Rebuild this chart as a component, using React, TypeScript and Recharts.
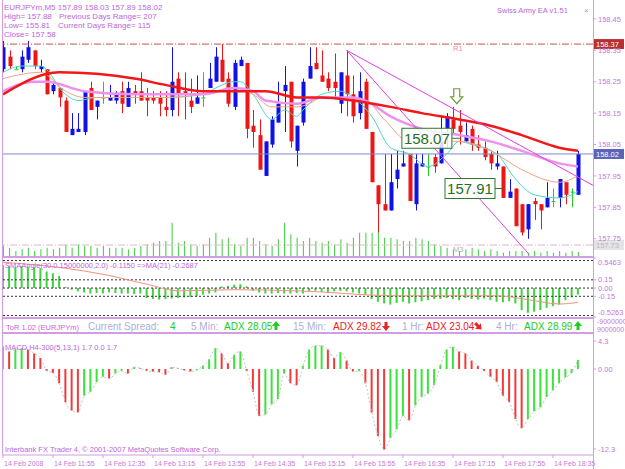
import { Bar, Cell, ComposedChart, Line, ReferenceDot, ReferenceLine, XAxis, YAxis } from "recharts";

// EURJPYm M5, 14 Feb 2008 11:15 .. 18:55 (one entry per bar)
const open = [158.29,158.33,158.29,158.29,158.32,158.35,158.29,158.29,158.22,158.23,
  158.19,158.08,158.09,158.09,158.23,158.17,158.20,158.19,158.19,158.22,
  158.17,158.22,158.22,158.20,158.20,158.20,158.17,158.16,158.26,158.22,
  158.19,158.18,158.20,158.23,158.25,158.32,158.26,158.17,158.30,158.31,
  158.11,158.08,157.95,158.05,158.12,158.22,158.25,158.03,158.12,158.26,
  158.31,158.27,158.26,158.25,158.18,158.27,158.21,158.15,158.25,158.09,
  157.92,157.86,157.84,157.94,157.98,158.02,157.86,157.98,157.98,158.01,
  157.99,158.10,158.13,158.11,158.06,158.10,158.05,158.04,158.02,157.98,
  157.98,157.88,157.91,157.86,157.78,157.87,157.86,157.85,157.87,157.88,
  157.93,157.90,157.89]
const high = [158.38,158.35,158.30,158.35,158.38,158.35,158.32,158.29,158.25,158.23,
  158.20,158.15,158.15,158.22,158.25,158.19,158.25,158.24,158.22,158.25,
  158.25,158.24,158.28,158.23,158.22,158.22,158.22,158.36,158.28,158.28,
  158.26,158.27,158.28,158.31,158.36,158.37,158.28,158.32,158.33,158.31,
  158.16,158.13,158.06,158.14,158.25,158.30,158.25,158.11,158.26,158.36,
  158.36,158.35,158.28,158.34,158.28,158.35,158.27,158.28,158.26,158.09,
  157.92,158.02,158.02,158.03,158.03,158.02,158.02,158.02,158.02,158.02,
  158.14,158.15,158.17,158.16,158.12,158.11,158.08,158.06,158.03,158.03,
  157.98,157.94,157.91,157.86,157.86,157.88,157.86,157.93,157.91,157.94,
  157.93,157.91,158.03]
const low = [158.28,158.29,158.29,158.28,158.31,158.29,158.28,158.21,158.21,158.17,
  158.09,158.08,158.09,158.08,158.16,158.13,158.18,158.19,158.18,158.15,
  158.17,158.18,158.19,158.14,158.18,158.14,158.14,158.14,158.14,158.13,
  158.15,158.18,158.17,158.23,158.25,158.25,158.17,158.16,158.30,158.07,
  158.04,157.97,157.95,158.04,158.12,158.09,158.04,157.98,158.11,158.26,
  158.29,158.25,158.22,158.20,158.15,158.14,158.12,158.13,158.10,157.93,
  157.77,157.84,157.84,157.91,157.98,157.87,157.84,157.98,157.95,157.96,
  157.99,158.04,158.08,158.05,158.06,158.03,158.03,158.00,157.97,157.97,
  157.88,157.88,157.79,157.76,157.75,157.81,157.78,157.85,157.85,157.85,
  157.86,157.85,157.89]
const close = [158.36,158.30,158.29,158.33,158.36,158.30,158.30,158.21,158.24,158.20,
  158.09,158.10,158.10,158.22,158.16,158.19,158.20,158.20,158.21,158.18,
  158.23,158.21,158.19,158.19,158.19,158.18,158.16,158.25,158.21,158.21,
  158.17,158.20,158.20,158.26,158.33,158.25,158.18,158.31,158.32,158.10,
  158.09,157.97,158.06,158.13,158.18,158.24,158.06,158.11,158.25,158.30,
  158.29,158.25,158.23,158.23,158.28,158.21,158.14,158.22,158.10,157.93,
  157.86,157.84,157.93,157.97,157.99,157.87,157.99,157.99,157.98,157.98,
  158.06,158.14,158.10,158.09,158.08,158.05,158.04,158.01,157.99,157.99,
  157.88,157.90,157.79,157.77,157.86,157.86,157.84,157.88,157.87,157.94,
  157.89,157.90,158.02]
const volume = [30,25,15,20,25,15,20,25,20,25,
  35,25,35,30,30,25,30,25,25,25,
  20,25,30,35,40,45,45,100,40,45,
  35,30,35,55,70,50,55,35,30,55,
  55,45,35,30,50,100,65,55,45,55,
  45,40,45,35,50,40,55,70,70,70,
  75,55,55,50,45,45,55,50,45,35,
  30,25,20,15,20,25,20,15,20,15,
  10,15,15,15,10,15,10,15,10,15,
  10,15,12]

// moving averages, read at a few bars
const maRedAt = [0, 9, 21, 26, 32, 37, 42, 47, 51, 56, 62, 67, 73, 78, 83, 89, 92]
const maRed = [158.21, 158.28, 158.26, 158.24, 158.22, 158.22, 158.22, 158.20, 158.20, 158.19, 158.17, 158.15, 158.13, 158.11, 158.08, 158.04, 158.03]
const maPinkAt = [0, 5, 7, 13, 21, 26, 32, 37, 40, 42, 47, 51, 56, 58, 62, 67, 73, 78, 83, 89, 92]
const maPink = [158.22, 158.25, 158.25, 158.22, 158.21, 158.21, 158.21, 158.23, 158.22, 158.19, 158.18, 158.20, 158.20, 158.19, 158.14, 158.10, 158.08, 158.06, 158.03, 157.99, 157.98]
const maSalmonAt = [0, 6, 10, 13, 21, 26, 32, 37, 40, 43, 47, 49, 51, 58, 61, 65, 70, 73, 78, 83, 89, 92]
const maSalmon = [158.26, 158.28, 158.22, 158.20, 158.20, 158.20, 158.21, 158.23, 158.21, 158.17, 158.17, 158.18, 158.20, 158.19, 158.13, 158.06, 158.06, 158.06, 158.03, 157.97, 157.93, 157.95]
const maCyanAt = [0, 3, 6, 10, 12, 15, 21, 26, 32, 34, 37, 38, 40, 43, 45, 47, 48, 51, 54, 56, 59, 62, 65, 68, 71, 73, 75, 79, 82, 85, 89, 92]
const maCyan = [158.28, 158.30, 158.30, 158.21, 158.19, 158.20, 158.20, 158.20, 158.21, 158.23, 158.25, 158.25, 158.21, 158.13, 158.16, 158.14, 158.16, 158.21, 158.22, 158.20, 158.14, 158.04, 158.02, 157.98, 158.02, 158.06, 158.05, 158.02, 157.94, 157.89, 157.88, 157.90]

const smaAngle = [0.42,0.40,0.38,0.40,0.39,0.38,0.36,0.30,0.27,0.22,
  0.02,-0.03,-0.06,-0.08,-0.10,-0.09,-0.10,-0.08,-0.09,-0.10,
  -0.10,-0.11,-0.10,-0.18,-0.20,-0.21,-0.20,-0.19,-0.18,-0.17,
  -0.16,-0.15,-0.12,-0.10,-0.08,0.03,0.04,0.06,0.07,0.03,
  -0.05,-0.08,-0.10,-0.10,-0.09,-0.10,-0.10,-0.09,-0.10,-0.06,
  -0.05,-0.07,-0.08,-0.06,-0.05,-0.06,-0.08,-0.10,-0.12,-0.20,
  -0.25,-0.28,-0.30,-0.27,-0.25,-0.28,-0.26,-0.24,-0.22,-0.20,
  -0.20,-0.18,-0.20,-0.22,-0.18,-0.20,-0.21,-0.19,-0.22,-0.25,
  -0.26,-0.24,-0.28,-0.40,-0.45,-0.43,-0.40,-0.36,-0.33,-0.30,
  -0.22,-0.17,-0.12]
const smaMaAt = [0, 10, 16, 23, 28, 37, 47, 63, 71, 79, 85, 89, 92]
const smaMa = [0.47, 0.36, 0.25, 0.07, -0.05, -0.03, -0.05, -0.14, -0.14, -0.14, -0.23, -0.29, -0.26]

const macdHist = [3.5,2.7,3.0,3.2,3.0,2.4,1.7,-0.3,-0.6,-2.2,
  -5.1,-6.4,-6.7,-4.1,-3.5,-2.0,-1.2,-1.5,-0.7,-0.3,
  -0.7,0.3,0.1,-0.3,-0.4,-0.5,-0.9,0.3,0.1,-0.2,
  -0.4,-0.2,0.5,1.5,3.2,2.4,0.9,2.2,2.7,-0.3,
  -3.5,-7.2,-7.0,-5.4,-4.6,-0.7,-2.2,-2.5,0.5,3.0,
  3.6,3.6,3.0,1.7,2.6,1.3,-0.4,-0.3,-2.2,-6.7,
  -10.3,-12.4,-10.6,-9.3,-7.2,-7.9,-5.6,-4.3,-3.8,-2.5,
  0.6,3.0,3.4,2.7,2.4,1.3,0.5,-0.3,-1.2,-2.0,
  -4.1,-5.1,-7.7,-9.1,-7.7,-6.5,-5.9,-4.3,-3.3,-2.2,
  -1.3,-0.6,1.4]

const priceTicks = [157.75, 157.85, 157.95, 158.05, 158.15, 158.25, 158.35, 158.45]
const smaTicks = [0.5463, 0.15, 0, -0.15, -0.5263]
const smaLevels = [0.5, 0.15, 0, -0.15, -0.5]
const macdTicks = [4.3, 0, -12.3]
const timeTicks = [0, 8, 16, 24, 32, 40, 48, 56, 64, 72, 80, 88]
const timeLabels = ["14 Feb 2008", "14 Feb 11:55", "14 Feb 12:35", "14 Feb 13:15", "14 Feb 13:55", "14 Feb 14:35",
  "14 Feb 15:15", "14 Feb 15:55", "14 Feb 16:35", "14 Feb 17:15", "14 Feb 17:55", "14 Feb 18:35"]

const r1Level = 158.37
const bidLevel = 158.02
const m3Level = 157.73
const trendLines = [
  [{ x: 55, y: 158.35 }, { x: 94.4, y: 157.92 }],
  [{ x: 55, y: 158.35 }, { x: 84.2, y: 157.70 }],
]
const priceBoxes = [{ i: 73.1, price: 158.07 }, { i: 80, price: 157.91 }]
const signalArrow = { i: 72.6, price: 158.18 }

const FONT = '"Liberation Sans", Arial, sans-serif'
const VIOLET = "#d49ce4"
const AXIS_TXT = "#c47ad8"
const BLUE = "#1010e8"
const RED = "#ee1515"
const GREEN = "#22cc22"
const ADX_RED = "#ee2020"
const GREY_TXT = "#aab0d6"
const X_DOMAIN = [-0.16, 94.4]

const rows: any[] = open.map((o, i) => ({
  i, open: o, high: high[i], low: low[i], close: close[i], vol: volume[i],
  sma: smaAngle[i], macd: macdHist[i],
  maRed: null, maPink: null, maSalmon: null, maCyan: null, smaMa: null,
}))
const place = (key: string, at: number[], vals: number[]) => at.forEach((idx, j) => { rows[idx][key] = vals[j] })
place("maRed", maRedAt, maRed)
place("maPink", maPinkAt, maPink)
place("maSalmon", maSalmonAt, maSalmon)
place("maCyan", maCyanAt, maCyan)
place("smaMa", smaMaAt, smaMa)

function Candle(props: any) {
  const { x, y, width, height, payload } = props
  if (!payload) return null
  const { open: o, close: c, high: h, low: l } = payload
  const cx = Math.round(x + width / 2)
  const k = height / (h - l)
  const yo = y + (h - o) * k
  const yc = y + (h - c) * k
  const col = c > o ? BLUE : c < o ? RED : GREEN
  const top = Math.min(yo, yc)
  const bh = Math.max(1, Math.abs(yc - yo))
  return (
    <g>
      <line x1={cx + 0.5} x2={cx + 0.5} y1={y} y2={y + height} stroke={col} />
      <rect x={cx - 1.5} y={top} width={4} height={bh} fill={col} />
    </g>
  )
}

// level line label: optional text on the line + price tag on the axis
const levelLabel = (name: string, nameColor: string, tag: string, bg: string, fg: string) => (p: any) => {
  const vb = p.viewBox
  return (
    <g fontFamily={FONT}>
      {name && <text x={vb.x + 451} y={vb.y + 7} fontSize={7.5} fill={nameColor}>{name}</text>}
      <rect x={vb.x + vb.width + 1} y={vb.y - 5} width={30} height={10} fill={bg} />
      <text x={vb.x + vb.width + 3} y={vb.y + 3} fontSize={7.5} fill={fg}>{tag}</text>
    </g>
  )
}

function PriceBox(props: any) {
  const { cx, cy, value } = props
  return (
    <g>
      <line x1={cx - 8} x2={cx} y1={cy} y2={cy} stroke="#2a7a2a" />
      <rect x={cx - 58} y={cy - 10} width={50} height={20} fill="#ffffff" fillOpacity={0.85} stroke="#2a7a2a" />
      <text x={cx - 33} y={cy + 5.5} fontSize={15} fontFamily={FONT} fill="#1f6f1f" textAnchor="middle">{value}</text>
    </g>
  )
}

function DownArrow(props: any) {
  const { cx, cy } = props
  const d = `M${cx},${cy} L${cx - 6},${cy - 7} L${cx - 3},${cy - 7} L${cx - 3},${cy - 15} L${cx + 3},${cy - 15} L${cx + 3},${cy - 7} L${cx + 6},${cy - 7} Z`
  return <path d={d} fill="#ffffff" stroke="#6f9a3a" strokeWidth={1.2} />
}

function TimeTick(props: any) {
  const { x, y, payload } = props
  return (
    <text x={x + 1} y={y + 6} fontSize={7} fontFamily={FONT} fill={AXIS_TXT} textAnchor="start">
      {timeLabels[timeTicks.indexOf(payload.value)]}
    </text>
  )
}

// right-axis tick text; the extreme labels are pulled inside the window
const axisTick = (fmt: (v: number) => string, top?: number, bottom?: number) => (p: any) => {
  const v = p.payload.value
  const shift = v === top ? 4 : v === bottom ? -5 : 0
  return (
    <text x={p.x} y={p.y + shift} dy="0.355em" fontSize={7.5} fontFamily={FONT} fill={AXIS_TXT} textAnchor="start">
      {fmt(v)}
    </text>
  )
}
const fmtZero = (v: number) => (v === 0 ? "0.00" : String(v))

// block arrows of the ToR line (up, down, down-right)
function BlockArrow({ x, y, dir, color }: { x: number; y: number; dir: "up" | "down" | "dr"; color: string }) {
  const up = "M0,-5 L4,0 L1.5,0 L1.5,4 L-1.5,4 L-1.5,0 L-4,0 Z"
  const rot = dir === "up" ? 0 : dir === "down" ? 180 : 135
  return <path d={up} transform={`translate(${x},${y}) rotate(${rot})`} fill={color} />
}

export default function App() {
  return (
    <div style={{ position: "fixed", left: 0, top: 0, width: 625, height: 469, background: "#fff", overflow: "hidden", fontFamily: FONT }}>
      {/* main price window */}
      <div style={{ position: "absolute", left: 0, top: 0 }}>
        <ComposedChart width={625} height={257} data={rows} margin={{ top: 2, right: 0, bottom: 1, left: 2 }}>
          <XAxis dataKey="i" type="number" domain={X_DOMAIN} allowDataOverflow hide />
          <XAxis xAxisId="v" dataKey="i" type="number" domain={X_DOMAIN} allowDataOverflow hide />
          <YAxis orientation="right" width={32} domain={[157.695, 158.504]} allowDataOverflow ticks={priceTicks}
            tick={axisTick((v) => v.toFixed(2))} tickSize={3} tickMargin={2}
            axisLine={false} tickLine={{ stroke: VIOLET }} interval={0} />
          <YAxis yAxisId="vol" domain={[0, 762]} allowDataOverflow hide />
          <Bar xAxisId="v" yAxisId="vol" dataKey="vol" fill="#3ccc3c" barSize={1} isAnimationActive={false} />
          <ReferenceLine y={r1Level} stroke="#c85050" strokeDasharray="7 2 1 2"
            label={levelLabel("R1", "#e89090", "158.37", "#b83030", "#ffffff")} />
          <ReferenceLine y={m3Level} stroke="#e8b4cc" strokeDasharray="7 2 1 2"
            label={levelLabel("M3", "#b0b0b0", "157.73", "#e4e4e4", "#b8b8c8")} />
          <ReferenceLine y={bidLevel} stroke="#7c88c8"
            label={levelLabel("", "", "158.02", "#5a64b8", "#ffffff")} />
          <Bar dataKey={(d: any) => [d.low, d.high]} barSize={5} shape={(p: any) => <Candle {...p} />} isAnimationActive={false} />
          <Line dataKey="maCyan" type="monotone" stroke="#50d4c8" strokeWidth={1} dot={false} connectNulls isAnimationActive={false} />
          <Line dataKey="maSalmon" type="monotone" stroke="#f4a283" strokeWidth={1} dot={false} connectNulls isAnimationActive={false} />
          <Line dataKey="maPink" type="monotone" stroke="#ee90ee" strokeWidth={2.5} dot={false} connectNulls isAnimationActive={false} />
          <Line dataKey="maRed" type="monotone" stroke="#f01818" strokeWidth={2.5} dot={false} connectNulls isAnimationActive={false} />
          {trendLines.map((seg, k) => (
            <ReferenceLine key={k} segment={seg} stroke="#e040e0" strokeWidth={1} ifOverflow="visible" />
          ))}
          {priceBoxes.map((b, k) => (
            <ReferenceDot key={k} x={b.i} y={b.price} shape={(p: any) => <PriceBox {...p} value={b.price.toFixed(2)} />} />
          ))}
          <ReferenceDot x={signalArrow.i} y={signalArrow.price} shape={(p: any) => <DownArrow {...p} />} />
        </ComposedChart>
      </div>

      {/* SMAAngle window */}
      <div style={{ position: "absolute", left: 0, top: 257 }}>
        <ComposedChart width={625} height={61} data={rows} margin={{ top: 1, right: 0, bottom: 1, left: 2 }}>
          <XAxis dataKey="i" type="number" domain={X_DOMAIN} allowDataOverflow hide />
          <YAxis orientation="right" width={32} domain={[-0.5263, 0.5463]} allowDataOverflow ticks={smaTicks}
            tick={axisTick(fmtZero, 0.5463, -0.5263)} tickSize={3} tickMargin={2}
            axisLine={false} tickLine={{ stroke: VIOLET }} interval={0} />
          {smaLevels.map((lv) => (
            <ReferenceLine key={lv} y={lv} stroke="#333" strokeDasharray="2 2" />
          ))}
          <Bar dataKey="sma" fill="#3ed23e" barSize={2} isAnimationActive={false} />
          <Line dataKey="smaMa" type="monotone" stroke="#f4907c" strokeWidth={1} dot={false} connectNulls isAnimationActive={false} />
        </ComposedChart>
      </div>

      {/* MACD window with time axis */}
      <div style={{ position: "absolute", left: 0, top: 333 }}>
        <ComposedChart width={625} height={136} data={rows} margin={{ top: 2, right: 0, bottom: 0, left: 2 }}>
          <XAxis dataKey="i" type="number" domain={X_DOMAIN} allowDataOverflow ticks={timeTicks} interval={0}
            tick={(p: any) => <TimeTick {...p} />} tickSize={3} height={14}
            axisLine={{ stroke: VIOLET }} tickLine={{ stroke: VIOLET }} />
          <YAxis orientation="right" width={32} domain={[-13.23, 5.23]} allowDataOverflow ticks={macdTicks}
            tick={axisTick(fmtZero)} tickSize={3} tickMargin={2}
            axisLine={false} tickLine={{ stroke: VIOLET }} interval={0} />
          <Bar dataKey="macd" barSize={2} isAnimationActive={false}>
            {rows.map((d, k) => (
              <Cell key={k} fill={k === 0 || d.macd >= rows[k - 1].macd ? "#3ae43a" : "#f03a3a"} />
            ))}
          </Bar>
          <Line dataKey="macd" type="monotone" stroke="#c4c4c4" strokeDasharray="2 2" strokeWidth={1} dot={false} isAnimationActive={false} />
        </ComposedChart>
      </div>

      {/* frame and window texts */}
      <svg width={625} height={469} style={{ position: "absolute", left: 0, top: 0, pointerEvents: "none" }} fontFamily={FONT}>
        <line x1={2.5} x2={2.5} y1={0} y2={455} stroke={VIOLET} />
        <line x1={593.5} x2={593.5} y1={0} y2={469} stroke={VIOLET} />
        <rect x={2} y={256} width={592} height={2} fill={VIOLET} />
        <rect x={2} y={317} width={592} height={2} fill={VIOLET} />
        <rect x={2} y={332} width={592} height={2} fill={VIOLET} />

        <g fontSize={8} fill="#bb66dd">
          <text x={4} y={10}>EURJPYm,M5  157.89 158.03 157.89 158.02</text>
          <text x={4} y={19}>High= 157.88</text>
          <text x={59} y={19}>Previous Days Range= 207</text>
          <text x={4} y={28}>Low= 155.81</text>
          <text x={58} y={28}>Current Days Range= 115</text>
          <text x={4} y={37}>Close= 157.58</text>
          <text x={497} y={13} fontSize={7.5}>Swiss Army EA v1.51</text>
          <text x={584} y={13} fill="#e070c0">×</text>
          <text x={5} y={268} fontSize={7.5}>SMAAngle(30,0.15000000,2.0) -0.1150  =&gt;MA(21) -0.2687</text>
          <text x={5} y={350} fontSize={7.5}>MACD H4-300(5,13,1) 1.7 0.0 1.7</text>
          <text x={5} y={452} fontSize={7.5}>Interbank FX Trader 4, © 2001-2007 MetaQuotes Software Corp.</text>
        </g>

        <g fontSize={10}>
          <text x={6} y={330} fontSize={7.5} fill="#cc66cc">ToR 1.02 (EURJPYm)</text>
          <text x={88} y={330} fill={GREY_TXT}>Current Spread:</text>
          <text x={170} y={330} fill={GREEN}>4</text>
          <text x={191} y={330} fill={GREY_TXT}>5 Min:</text>
          <text x={224} y={330} fill={GREEN}>ADX 28.05</text>
          <text x={293} y={330} fill={GREY_TXT}>15 Min:</text>
          <text x={333} y={330} fill={ADX_RED}>ADX 29.82</text>
          <text x={402} y={330} fill={GREY_TXT}>1 Hr:</text>
          <text x={426} y={330} fill={ADX_RED}>ADX 23.04</text>
          <text x={496} y={330} fill={GREY_TXT}>4 Hr:</text>
          <text x={524} y={330} fill={GREEN}>ADX 28.99</text>
        </g>
        <BlockArrow x={276} y={326} dir="up" color={GREEN} />
        <BlockArrow x={386} y={326} dir="down" color={ADX_RED} />
        <BlockArrow x={478} y={326} dir="dr" color={ADX_RED} />
        <BlockArrow x={578} y={326} dir="up" color={GREEN} />
        <g fontSize={7} fill={AXIS_TXT}>
          <text x={597} y={324}>-9000000</text>
          <text x={597} y={332}>9000000</text>
        </g>
      </svg>
    </div>
  )
}
